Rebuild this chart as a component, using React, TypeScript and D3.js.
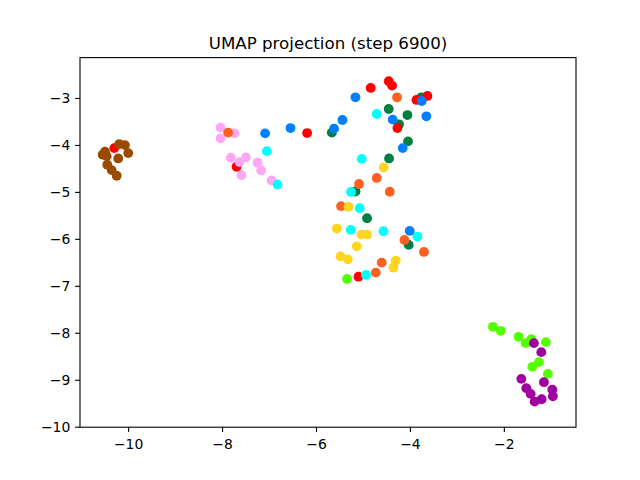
import React from "react";
import * as d3 from "d3";

const title = "UMAP projection (step 6900)";
const xTicks = [-10, -8, -6, -4, -2];
const yTicks = [-10, -9, -8, -7, -6, -5, -4, -3];
const xDomain = [-11.036, -0.474];
const yDomain = [-10, -2.13];

// each group: [x, y] pairs
const greenPts: [number, number][] = [
  [-5.674, -3.728], [-3.766, -2.975], [-4.462, -3.225], [-4.064, -3.353], [-4.243, -3.551],
  [-4.051, -3.914], [-4.455, -4.277], [-5.17, -4.981], [-4.923, -5.551], [-4.036, -6.118],
];
const redPts: [number, number][] = [
  [-10.306, -4.057], [-6.2, -3.737], [-7.702, -4.454], [-4.845, -2.776], [-4.462, -2.633],
  [-4.391, -2.725], [-3.872, -3.032], [-3.638, -2.947], [-4.277, -3.63], [-5.106, -6.795],
];
const brownPts: [number, number][] = [
  [-10.504, -4.134], [-10.553, -4.198], [-10.468, -4.228], [-10.221, -4.277], [-10.2, -3.971],
  [-10.079, -3.993], [-10.009, -4.164], [-10.455, -4.411], [-10.362, -4.526], [-10.255, -4.646],
];
const pinkPts: [number, number][] = [
  [-8.043, -3.621], [-7.745, -3.743], [-8.043, -3.85], [-7.823, -4.262], [-7.638, -4.355],
  [-7.504, -4.255], [-7.596, -4.633], [-7.255, -4.368], [-7.179, -4.533], [-6.957, -4.746],
];
const orangePts: [number, number][] = [
  [-7.881, -3.728], [-4.285, -2.975], [-4.717, -4.693], [-5.094, -4.821], [-4.44, -4.987],
  [-5.477, -5.294], [-4.128, -6.012], [-3.711, -6.268], [-4.611, -6.496], [-4.738, -6.709],
];
const cyanPts: [number, number][] = [
  [-7.057, -4.121], [-6.83, -4.831], [-4.717, -3.331], [-5.036, -4.287], [-5.266, -4.991],
  [-5.079, -5.337], [-5.27, -5.798], [-4.574, -5.828], [-3.851, -5.941], [-4.945, -6.758],
];
const goldPts: [number, number][] = [
  [-4.568, -4.469], [-5.319, -5.307], [-5.568, -5.77], [-5.043, -5.898], [-4.923, -5.898],
  [-5.143, -6.148], [-5.489, -6.362], [-5.334, -6.426], [-4.313, -6.453], [-4.362, -6.603],
];
const bluePts: [number, number][] = [
  [-7.094, -3.743], [-6.553, -3.63], [-5.626, -3.643], [-5.447, -3.459], [-3.76, -3.054],
  [-5.17, -2.975], [-3.66, -3.38], [-4.377, -3.451], [-4.164, -4.057], [-4.015, -5.819],
];
const limePts: [number, number][] = [
  [-5.349, -6.844], [-2.243, -7.862], [-2.079, -7.947], [-1.696, -8.075], [-1.547, -8.21],
  [-1.426, -8.124], [-1.115, -8.188], [-1.264, -8.615], [-1.404, -8.715], [-1.072, -8.865],
];
const purplePts: [number, number][] = [
  [-1.37, -8.21], [-1.213, -8.402], [-1.638, -8.971], [-1.157, -9.042], [-1.532, -9.17],
  [-1.44, -9.291], [-0.979, -9.2], [-0.966, -9.341], [-1.355, -9.456], [-1.206, -9.405],
];

const groups: { pts: [number, number][]; color: string }[] = [
  { pts: greenPts, color: "#008040" },
  { pts: redPts, color: "#ff0000" },
  { pts: brownPts, color: "#994c00" },
  { pts: pinkPts, color: "#ffa6f5" },
  { pts: orangePts, color: "#ff6020" },
  { pts: cyanPts, color: "#00ffff" },
  { pts: goldPts, color: "#ffd520" },
  { pts: bluePts, color: "#0080ff" },
  { pts: limePts, color: "#55ff00" },
  { pts: purplePts, color: "#a000a0" },
];

const fmt = (v: number) => (v < 0 ? "\u2212" + Math.abs(v) : String(v));

export default function App() {
  const W = 640, H = 480;
  const left = 80, right = 576, top = 57.6, bottom = 427.2;
  const x = d3.scaleLinear().domain(xDomain).range([left, right]);
  const y = d3.scaleLinear().domain(yDomain).range([bottom, top]);
  const font = "DejaVu Sans, sans-serif";
  return (
    <svg width={W} height={H} style={{ display: "block", position: "absolute", left: 0, top: 0 }}>
      <rect x={0} y={0} width={W} height={H} fill="#fff" />
      <defs>
        <clipPath id="clip">
          <rect x={left} y={top} width={right - left} height={bottom - top} />
        </clipPath>
      </defs>
      <g clipPath="url(#clip)">
        {groups.map((g, gi) =>
          g.pts.map((p, i) => (
            <circle key={gi + "-" + i} cx={x(p[0])} cy={y(p[1])} r={4.9} fill={g.color} />
          ))
        )}
      </g>
      <rect x={left} y={top} width={right - left} height={bottom - top} fill="none" stroke="#000" strokeWidth={1.1} />
      {xTicks.map((t) => (
        <g key={"x" + t}>
          <line x1={x(t)} x2={x(t)} y1={bottom} y2={bottom + 4.9} stroke="#000" strokeWidth={1.1} />
          <text x={x(t)} y={448.5} textAnchor="middle" fontFamily={font} fontSize={13.9} fill="#000">
            {fmt(t)}
          </text>
        </g>
      ))}
      {yTicks.map((t) => (
        <g key={"y" + t}>
          <line x1={left - 4.9} x2={left} y1={y(t)} y2={y(t)} stroke="#000" strokeWidth={1.1} />
          <text x={70.3} y={y(t) + 5} textAnchor="end" fontFamily={font} fontSize={13.9} fill="#000">
            {fmt(t)}
          </text>
        </g>
      ))}
      <text x={(left + right) / 2} y={49} textAnchor="middle" fontFamily={font} fontSize={16.67} fill="#000">
        {title}
      </text>
    </svg>
  );
}
